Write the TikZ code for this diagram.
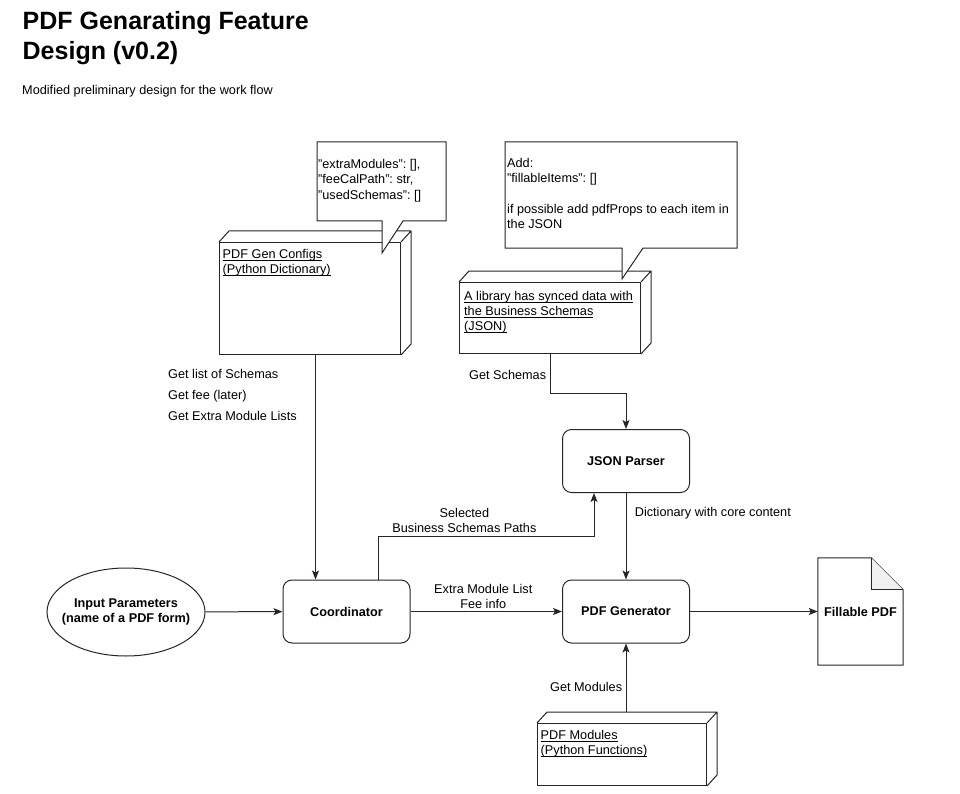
\documentclass[tikz,border=0pt]{standalone}
\usepackage{fontspec}
\setmainfont{Liberation Sans}
\usetikzlibrary{calc}
\usetikzlibrary{shapes.geometric}
\usetikzlibrary{arrows.meta}
\newsavebox{\ulnbox}
\newcommand{\uln}[1]{\sbox{\ulnbox}{#1}\rlap{\rule[-2.2pt]{\wd\ulnbox}{0.7pt}}\usebox{\ulnbox}}
\tikzset{
	every node/.style={font=\fontsize{12.7}{15}\selectfont},
	line/.style={draw=black!85, line width=1pt},
	flow/.style={line, -{Stealth[length=9pt,width=7pt,inset=2pt]}},
	proc box/.style={draw=black!85, line width=1pt, rounded corners=9pt, minimum width=127pt, minimum height=63pt, font=\fontsize{12.7}{15}\selectfont\bfseries},
	input ellipse/.style={ellipse, draw=black!85, line width=1pt, inner xsep=-14pt, inner ysep=0pt, minimum width=158pt, minimum height=88pt, align=center, font=\fontsize{12.7}{15}\selectfont\bfseries},
	cube face/.style={draw=black!85, line width=1pt, fill=white, anchor=north west, inner sep=0pt},
	cube text/.style={anchor=north west, align=left, inner xsep=3.5pt, inner ysep=7pt},
	note/.style={draw=black!85, line width=1pt, fill=white},
	note text/.style={anchor=north west, align=left, inner sep=0pt, font=\fontsize{12.7}{15.4}\selectfont},
}
\newcommand{\cubedepth}[1]{%
	\draw[line, line join=round] (#1.north west) -- ++(10,-11) -- ($(#1.north east)+(10,-11)$) -- ($(#1.south east)+(10,-11)$) -- (#1.south east)
	(#1.north east) -- ++(10,-11);
}

\begin{document}
\frenchspacing
\begin{tikzpicture}[x=1pt, y=-1pt]
	\useasboundingbox (0,0) rectangle (960,794);
	% title
	\node[anchor=north west, align=left, inner sep=0pt, font=\fontsize{25}{30.5}\selectfont\bfseries] (title) at (22.5,11) {PDF Genarating Feature\\Design (v0.2)};
	\node[anchor=base west, inner sep=0pt] (subtitle) at (22,94.5) {Modified preliminary design for the work flow};

	% main flow
	\node[input ellipse] (input) at (126,612) {Input Parameters\\(name of a PDF form)};
	\node[proc box] (coord) at (346.5,611.5) {Coordinator};
	\node[proc box] (gen) at (626,611.5) {PDF Generator};
	\node[proc box] (parser) at (626,461) {JSON Parser};
	\node[minimum width=85pt, minimum height=107pt, inner sep=0pt, font=\fontsize{12.7}{15}\selectfont\bfseries] (pdf) at (860.5,611.5) {Fillable PDF};
	\draw[line] (pdf.north west) -- ($(pdf.north east)+(-32,0)$) -- ($(pdf.north east)+(0,32)$) -- (pdf.south east) -- (pdf.south west) -- cycle;
	\draw[line, fill=black!6] ($(pdf.north east)+(-32,0)$) -- ($(pdf.north east)+(-32,32)$) -- ($(pdf.north east)+(0,32)$);

	% data sources
	\node[cube face, minimum width=181pt, minimum height=112pt, label={[cube text]north west:{\uln{PDF Gen Configs}\\\uln{(Python Dictionary)}}}] (cfg) at (219,242) {};
	\cubedepth{cfg}
	\node[cube face, minimum width=181pt, minimum height=71pt, label={[cube text, inner xsep=5pt, inner ysep=9pt]north west:{\uln{A library has synced data with}\\\uln{the Business Schemas}\\\uln{(JSON)}}}] (lib) at (459,282) {};
	\cubedepth{lib}
	\node[cube face, minimum width=169pt, minimum height=62pt, label={[cube text]north west:{\uln{PDF Modules}\\\uln{(Python Functions)}}}] (mods) at (537,723) {};
	\cubedepth{mods}

	% notes
	\draw[note] (317,142) -- (446,142) -- (446,221) -- (403,221) -- (382,253) -- (382,221) -- (317,221) -- cycle;
	\node[note text] (cfgnote) at (318,159) {"extraModules": [],\\"feeCalPath": str,\\"usedSchemas": []};
	\draw[note] (505,142) -- (737,142) -- (737,248) -- (643,248) -- (622,279) -- (622,248) -- (505,248) -- cycle;
	\node[note text] (libnote) at (507,158) {Add:\\"fillableItems": []\\[15pt]if possible add pdfProps to each item in\\the JSON};

	% connectors
	\coordinate (cfgout) at ([xshift=5.5pt]cfg.south);
	\draw[flow] (cfgout) -- (cfgout |- coord.north);
	\node[anchor=north west, align=left, inner sep=0pt, font=\fontsize{12.7}{21}\selectfont] (cfglabel) at (168,369.5) {Get list of Schemas\\Get fee (later)\\Get Extra Module Lists};
	\draw[flow] (lib.south) -- node[left, pos=0.55] (schemalabel) {Get Schemas} ++(0,39) -| (parser.north);
	\draw[flow] (parser) -- node[right, pos=0.23, xshift=5pt] (dictlabel) {Dictionary with core content} (gen);
	\draw[flow] ([xshift=31.5pt]coord.north) -- ++(0,-43) -| node[pos=0.2, above, align=center] (pathlabel) {Selected\\Business Schemas Paths} ([xshift=-32pt]parser.south);
	\draw[flow] (input) -- (coord);
	\draw[flow] (coord) -- node[above, align=center, inner ysep=2pt, xshift=-3pt] (modlabel) {Extra Module List\\Fee info} (gen);
	\draw[flow] (gen) -- (pdf);
	\coordinate (modtop) at ($(mods.north)+(0,-11)$);
	\draw[flow] (modtop -| gen.south) -- node[left, pos=0.36] (getmodlabel) {Get Modules} (gen.south);
\end{tikzpicture}
\end{document}
